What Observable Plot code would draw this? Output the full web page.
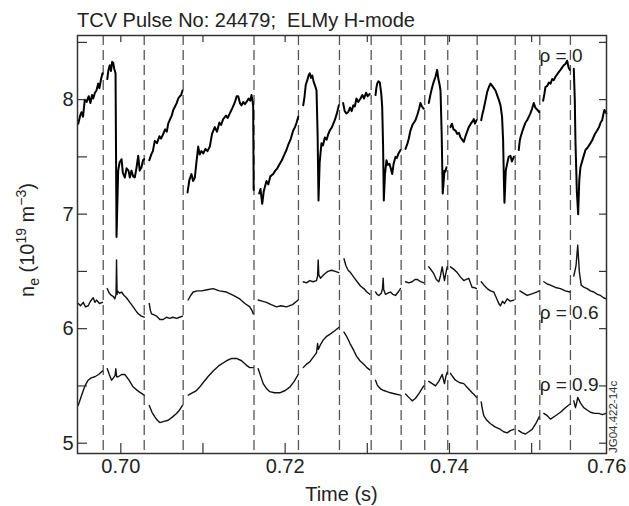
<!DOCTYPE html>
<html><head><meta charset="utf-8">
<script src="https://cdn.jsdelivr.net/npm/d3@7"></script>
<script src="https://cdn.jsdelivr.net/npm/@observablehq/plot@0.6"></script>
<style>body{margin:0;background:#fff;} #chart{width:629px;height:506px;}</style>
</head><body><div id="chart"></div>
<script>
const title = "TCV Pulse No: 24479;  ELMy H-mode";
const xLabel = "Time (s)";
const noteText = "JG04.422-14c";
const xTicks = [0.70, 0.72, 0.74];
const xEdgeTick = [0.76];
const xMinorTicks = [0.70, 0.71, 0.72, 0.73, 0.74, 0.75];
const yTicks = [5, 6, 7, 8];
const yMinorTicks = [5, 5.5, 6, 6.5, 7, 7.5, 8, 8.5];
const seriesLabels = ["ρ = 0", "ρ = 0.6", "ρ = 0.9"];
// ELM times (ms)
const elmTimesMs = [697.86, 702.85, 707.59, 716.21, 721.62, 726.61, 730.47, 734.12, 736.99, 739.79, 743.37, 748.00, 750.99, 754.72];

// rho = 0 : segments of [time (ms), n_e]
const rho0 = [
[[694.82,7.79],[695.05,7.86],[695.22,7.89],[695.4,7.85],[695.62,8.00],[695.85,7.98],[696.1,8.03],[696.3,7.97],[696.5,8.04],[696.64,8.01],[696.85,8.06],[697.04,8.08],[697.25,8.14],[697.4,8.10],[697.6,8.18],[697.77,8.23]],
[[698.35,8.18],[698.5,8.26],[698.66,8.30],[698.8,8.25],[698.95,8.33],[699.08,8.32],[699.2,8.27],[699.36,8.23],[699.48,6.80],[699.68,7.38],[699.85,7.45],[700.09,7.48],[700.25,7.36],[700.49,7.32],[700.7,7.40],[700.94,7.38],[701.1,7.32],[701.3,7.38],[701.5,7.33],[701.7,7.32],[701.9,7.40],[702.12,7.51],[702.3,7.38],[702.52,7.41],[702.7,7.47],[702.85,7.48]],
[[703.46,7.47],[703.7,7.52],[703.9,7.55],[704.14,7.64],[704.4,7.62],[704.7,7.68],[704.9,7.66],[705.16,7.70],[705.4,7.74],[705.6,7.72],[705.77,7.79],[706.0,7.83],[706.2,7.86],[706.38,7.91],[706.6,7.94],[706.8,7.97],[706.99,8.01],[707.2,8.03],[707.35,8.04],[707.51,8.08]],
[[708.12,7.19],[708.35,7.30],[708.6,7.35],[708.8,7.29],[709.01,7.32],[709.2,7.45],[709.42,7.59],[709.6,7.52],[709.8,7.55],[710.03,7.53],[710.3,7.57],[710.55,7.55],[710.83,7.59],[711.1,7.70],[711.44,7.76],[711.7,7.72],[712.0,7.80],[712.2,7.78],[712.46,7.83],[712.8,7.86],[713.0,7.84],[713.27,7.88],[713.6,7.93],[713.9,7.98],[714.1,8.03],[714.29,8.03],[714.5,7.97],[714.69,7.95],[714.9,7.98],[715.1,7.96],[715.3,7.98],[715.55,8.01],[715.75,7.99],[715.91,8.04],[716.05,7.98],[716.11,7.94],[716.17,7.21]],
[[716.84,7.18],[717.0,7.22],[717.21,7.09],[717.4,7.20],[717.73,7.29],[717.95,7.26],[718.2,7.33],[718.55,7.35],[718.8,7.38],[719.05,7.40],[719.35,7.44],[719.6,7.47],[719.9,7.52],[720.16,7.56],[720.4,7.61],[720.7,7.66],[720.98,7.73],[721.2,7.76],[721.4,7.80],[721.59,7.85]],
[[722.20,7.95],[722.35,8.02],[722.51,8.13],[722.7,8.17],[722.85,8.21],[723.00,8.23],[723.15,8.19],[723.3,8.21],[723.49,8.15],[723.65,8.12],[723.82,8.08],[723.95,7.70],[724.06,7.12],[724.2,7.45],[724.42,7.62],[724.6,7.60],[724.83,7.67],[725.05,7.65],[725.25,7.70],[725.43,7.73],[725.7,7.76],[726.04,7.82],[726.3,7.88],[726.53,7.95]],
[[727.06,7.97],[727.25,7.90],[727.45,7.88],[727.67,7.89],[727.9,7.93],[728.1,7.90],[728.3,7.95],[728.48,7.94],[728.68,8.01],[728.9,7.98],[729.17,8.01],[729.4,8.04],[729.6,8.01],[729.85,8.06],[730.05,8.03],[730.30,8.05]],
[[731.00,8.04],[731.1,8.10],[731.20,8.14],[731.35,8.16],[731.52,8.15],[731.7,8.05],[731.81,7.94],[731.92,7.60],[732.01,7.12],[732.15,7.35],[732.33,7.47],[732.5,7.43],[732.7,7.44],[732.82,7.41],[733.03,7.35],[733.2,7.44],[733.43,7.50],[733.6,7.49],[733.8,7.53],[734.04,7.56]],
[[734.65,7.57],[734.9,7.62],[735.05,7.66],[735.25,7.73],[735.5,7.78],[735.86,7.82],[736.1,7.87],[736.3,7.92],[736.47,7.97],[736.65,7.94],[736.87,7.92]],
[[737.48,7.97],[737.7,8.05],[737.90,8.11],[738.1,8.16],[738.3,8.20],[738.50,8.26],[738.65,8.18],[738.8,8.13],[738.91,8.08],[739.05,7.70],[739.18,7.18],[739.39,7.38],[739.5,7.37],[739.64,7.41]],
[[740.12,7.76],[740.3,7.79],[740.5,7.74],[740.73,7.73],[740.95,7.70],[741.15,7.71],[741.34,7.67],[741.55,7.65],[741.74,7.63],[741.95,7.68],[742.15,7.72],[742.35,7.76],[742.6,7.79],[742.8,7.81],[742.96,7.83],[743.1,7.79],[743.29,7.82]],
[[743.86,7.82],[744.0,7.87],[744.17,7.92],[744.4,8.00],[744.6,8.07],[744.8,8.11],[744.99,8.14],[745.2,8.12],[745.4,8.10],[745.60,8.08],[745.8,8.04],[746.0,8.00],[746.21,7.95],[746.4,7.85],[746.53,7.64],[746.62,7.30],[746.69,7.10],[746.85,7.38],[747.02,7.44],[747.2,7.50],[747.42,7.51],[747.6,7.46],[747.83,7.50]],
[[748.43,7.56],[748.55,7.64],[748.64,7.67],[748.85,7.72],[749.04,7.76],[749.25,7.80],[749.45,7.82],[749.65,7.85],[749.85,7.88],[750.05,7.92],[750.26,7.97],[750.45,7.93],[750.7,7.91],[750.92,7.89]],
[[751.40,7.99],[751.55,8.05],[751.68,8.11],[751.9,8.12],[752.1,8.15],[752.3,8.14],[752.5,8.18],[752.69,8.17],[752.9,8.20],[753.1,8.22],[753.3,8.24],[753.51,8.26],[753.7,8.28],[753.9,8.30],[754.1,8.31],[754.32,8.34],[754.5,8.28],[754.64,8.26]],
[[755.13,8.27],[755.25,8.00],[755.33,7.64],[755.5,7.20],[755.66,7.00],[755.8,7.30],[755.94,7.41],[756.1,7.45],[756.3,7.50],[756.55,7.56],[756.8,7.58],[757.16,7.62],[757.4,7.65],[757.7,7.70],[757.97,7.73],[758.2,7.76],[758.4,7.80],[758.58,7.82],[758.75,7.88],[758.86,7.91],[759.0,7.89],[759.10,7.88]]
];

// rho = 0.6
const rho06 = [
[[694.82,6.22],[695.1,6.20],[695.43,6.23],[695.7,6.19],[696.03,6.20],[696.3,6.24],[696.64,6.27],[696.85,6.23],[697.04,6.25],[697.4,6.22],[697.77,6.23]],
[[698.35,6.35],[698.6,6.31],[698.87,6.29],[699.1,6.28],[699.27,6.26],[699.42,6.30],[699.48,6.60],[699.55,6.30],[699.60,6.33],[699.85,6.31],[700.09,6.32],[700.4,6.29],[700.69,6.27],[701.1,6.23],[701.51,6.19],[701.8,6.16],[702.12,6.13],[702.5,6.11],[702.85,6.10]],
[[703.46,6.22],[703.6,6.16],[703.74,6.13],[704.05,6.12],[704.35,6.11],[704.75,6.08],[705.16,6.08],[705.55,6.10],[705.96,6.09],[706.35,6.10],[706.78,6.09],[707.15,6.10],[707.51,6.11]],
[[708.20,6.25],[708.5,6.29],[708.81,6.32],[709.3,6.33],[709.82,6.33],[710.5,6.34],[711.24,6.35],[712.0,6.33],[712.86,6.32],[713.7,6.29],[714.48,6.26],[715.1,6.22],[715.70,6.19],[715.95,6.16],[716.11,6.13]],
[[716.72,6.25],[717.2,6.24],[717.73,6.23],[718.3,6.21],[718.95,6.19],[719.5,6.20],[720.16,6.19],[720.9,6.21],[721.59,6.25]],
[[722.20,6.41],[722.6,6.40],[723.00,6.42],[723.4,6.41],[723.82,6.42],[723.95,6.46],[724.02,6.60],[724.1,6.47],[724.30,6.44],[724.55,6.46],[724.83,6.48],[725.2,6.50],[725.64,6.51],[726.1,6.50],[726.53,6.49]],
[[727.16,6.61],[727.4,6.55],[727.67,6.51],[727.95,6.49],[728.35,6.45],[728.77,6.41],[729.2,6.37],[729.57,6.35],[729.95,6.32],[730.30,6.30]],
[[731.00,6.32],[731.2,6.30],[731.40,6.29],[731.7,6.31],[731.85,6.35],[731.93,6.44],[732.0,6.34],[732.21,6.30],[732.5,6.31],[732.82,6.32],[733.1,6.30],[733.43,6.29],[733.75,6.32],[734.04,6.35]],
[[734.65,6.41],[735.05,6.40],[735.46,6.41],[735.8,6.43],[736.07,6.43],[736.5,6.41],[736.87,6.40]],
[[737.48,6.54],[737.8,6.51],[738.09,6.48],[738.4,6.43],[738.70,6.41],[738.9,6.46],[739.11,6.54],[739.25,6.48],[739.39,6.42],[739.55,6.48],[739.72,6.54]],
[[740.12,6.54],[740.5,6.52],[740.94,6.49],[741.35,6.45],[741.74,6.42],[742.05,6.43],[742.35,6.44],[742.55,6.40],[742.76,6.36],[743.0,6.36],[743.29,6.35]],
[[743.86,6.41],[744.2,6.38],[744.59,6.35],[745.0,6.33],[745.39,6.32],[745.7,6.27],[746.0,6.22],[746.21,6.20],[746.45,6.24],[746.7,6.22],[747.02,6.26],[747.4,6.24],[747.83,6.25]],
[[748.56,6.33],[749.0,6.31],[749.46,6.29],[749.85,6.30],[750.26,6.31],[750.6,6.32],[750.92,6.33]],
[[751.48,6.41],[751.9,6.39],[752.29,6.38],[752.9,6.36],[753.51,6.35],[754.1,6.33],[754.64,6.32]],
[[755.13,6.46],[755.4,6.55],[755.61,6.73],[755.8,6.50],[756.03,6.38],[756.4,6.36],[756.76,6.35],[757.15,6.33],[757.56,6.32],[758.0,6.30],[758.38,6.29],[758.75,6.27],[759.07,6.26]]
];

// rho = 0.9
const rho09 = [
[[694.82,5.33],[695.1,5.39],[695.43,5.46],[695.7,5.51],[696.03,5.55],[696.4,5.57],[696.84,5.58],[697.3,5.60],[697.77,5.63]],
[[698.35,5.65],[698.6,5.60],[698.87,5.55],[699.1,5.57],[699.3,5.59],[699.39,5.65],[699.5,5.58],[699.68,5.58],[700.1,5.60],[700.49,5.60],[701.0,5.55],[701.51,5.49],[702.2,5.45],[702.85,5.42]],
[[703.46,5.33],[703.8,5.27],[704.14,5.23],[704.45,5.20],[704.75,5.18],[705.25,5.19],[705.77,5.20],[706.3,5.23],[706.78,5.26],[707.15,5.29],[707.51,5.33]],
[[708.20,5.42],[708.7,5.44],[709.21,5.46],[709.6,5.49],[710.03,5.53],[710.6,5.58],[711.24,5.63],[712.0,5.68],[712.86,5.72],[713.5,5.74],[714.08,5.74],[714.7,5.72],[715.30,5.68],[715.7,5.66],[716.11,5.66]],
[[716.72,5.65],[717.0,5.59],[717.33,5.52],[717.7,5.48],[718.13,5.45],[718.7,5.44],[719.35,5.44],[720.0,5.46],[720.57,5.49],[721.1,5.54],[721.59,5.60]],
[[722.20,5.66],[722.6,5.69],[723.00,5.71],[723.4,5.75],[723.82,5.79],[723.95,5.87],[724.05,5.82],[724.30,5.86],[724.63,5.90],[725.0,5.93],[725.43,5.95],[726.0,5.98],[726.53,6.01]],
[[727.16,5.97],[727.5,5.93],[727.9,5.87],[728.35,5.81],[728.68,5.76],[729.1,5.72],[729.57,5.69],[729.95,5.66],[730.30,5.64]],
[[731.00,5.55],[731.2,5.51],[731.40,5.49],[731.7,5.47],[732.01,5.46],[732.4,5.45],[732.82,5.44],[733.4,5.43],[734.04,5.42]],
[[734.65,5.43],[735.05,5.40],[735.46,5.37],[735.85,5.39],[736.26,5.43],[736.6,5.47],[736.87,5.50]],
[[737.48,5.54],[737.9,5.52],[738.30,5.50],[738.7,5.54],[739.11,5.60],[739.25,5.56],[739.39,5.52],[739.55,5.58],[739.72,5.62]],
[[740.12,5.61],[740.4,5.58],[740.73,5.55],[741.2,5.53],[741.74,5.52],[742.25,5.48],[742.76,5.44],[743.05,5.42],[743.29,5.40]],
[[743.86,5.36],[744.0,5.30],[744.17,5.24],[744.55,5.20],[744.99,5.17],[745.6,5.14],[746.21,5.12],[746.6,5.10],[747.02,5.09],[747.4,5.11],[747.83,5.12]],
[[748.43,5.11],[748.85,5.09],[749.25,5.08],[749.65,5.10],[750.06,5.12],[750.5,5.17],[750.92,5.23]],
[[751.48,5.26],[751.9,5.24],[752.29,5.21],[752.9,5.24],[753.51,5.27],[754.1,5.31],[754.64,5.34]],
[[755.13,5.37],[755.33,5.31],[755.5,5.36],[755.61,5.40],[755.95,5.35],[756.34,5.31],[756.75,5.29],[757.16,5.27],[757.65,5.26],[758.17,5.26],[758.6,5.25],[759.07,5.26]]
];

const toRows = (segs, name) => segs.flatMap((seg, i) => seg.map(([t, v]) => ({t: t / 1000, v, seg: name + i})));
const rows0 = toRows(rho0, "a");
const rows06 = toRows(rho06, "b");
const rows09 = toRows(rho09, "c");
const elmTimes = elmTimesMs.map(d => d / 1000);

const FONT = "'Liberation Sans', Arial, Helvetica, sans-serif";
const W = 629, H = 506, ML = 77, MR = 23, MT = 35, MB = 53;
const frameW = W - ML - MR, frameH = H - MT - MB;
const fmt = d3.format(".2f");

const chart = Plot.plot({
  width: W, height: H,
  marginLeft: ML, marginRight: MR, marginTop: MT, marginBottom: MB,
  style: {fontFamily: FONT, color: "#222", background: "#fff", overflow: "visible"},
  x: {domain: [0.69473, 0.75911]},
  y: {domain: [4.91, 8.56]},
  marks: [
    Plot.ruleX(elmTimes, {x: d => d, stroke: "#555", strokeWidth: 1.3, strokeDasharray: "10,5"}),
    Plot.line(rows09, {x: "t", y: "v", z: "seg", stroke: "#111", strokeWidth: 1.4}),
    Plot.line(rows06, {x: "t", y: "v", z: "seg", stroke: "#111", strokeWidth: 1.4}),
    Plot.line(rows0, {x: "t", y: "v", z: "seg", stroke: "#000", strokeWidth: 2}),
    Plot.ruleX(xMinorTicks, {x: d => d, insetTop: frameH - 10, stroke: "#333", strokeWidth: 1.2}),
    Plot.ruleX(xMinorTicks, {x: d => d, insetBottom: frameH - 7, stroke: "#333", strokeWidth: 1.2}),
    Plot.ruleY(yMinorTicks, {y: d => d, insetRight: frameW - 10, stroke: "#333", strokeWidth: 1.2}),
    Plot.ruleY(yMinorTicks, {y: d => d, insetLeft: frameW - 7, stroke: "#333", strokeWidth: 1.2}),
    Plot.frame({stroke: "#333", strokeWidth: 1.5}),
    Plot.axisX({ticks: xTicks, tickSize: 0, tickPadding: 5, tickFormat: fmt, fontSize: 20, label: null, fill: "#222"}),
    Plot.axisX({ticks: xEdgeTick, tickSize: 0, tickPadding: 5, tickFormat: fmt, fontSize: 20, label: null, fill: "#222", dx: -7}),
    Plot.axisY({ticks: yTicks, tickSize: 0, tickPadding: 4, tickFormat: d3.format("d"), fontSize: 20, label: null, fill: "#222"}),
    Plot.text([seriesLabels[0]], {text: d => d, frameAnchor: "top-right", textAnchor: "end", dx: -24, dy: 13, fontSize: 19, fill: "#222"}),
    Plot.text([seriesLabels[1]], {text: d => d, frameAnchor: "right", textAnchor: "end", dx: -8, dy: 68, fontSize: 19, fill: "#222"}),
    Plot.text([seriesLabels[2]], {text: d => d, frameAnchor: "right", textAnchor: "end", dx: -8, dy: 140, fontSize: 19, fill: "#222"})
  ]
});

const svg = d3.select(chart);
svg.append("text").attr("x", ML).attr("y", 27).attr("text-anchor", "start").attr("font-size", 20).attr("font-family", FONT).attr("fill", "#222").text(title);
svg.append("text").attr("x", ML + frameW / 2).attr("y", 501).attr("text-anchor", "middle").attr("font-size", 20).attr("font-family", FONT).attr("fill", "#222").text(xLabel);
const yl = svg.append("text").attr("transform", "translate(34,240) rotate(-90)").attr("text-anchor", "middle").attr("font-size", 20).attr("font-family", FONT).attr("fill", "#222");
yl.append("tspan").text("n");
yl.append("tspan").attr("dy", 5).attr("font-size", 14).text("e");
yl.append("tspan").attr("dy", -5).text(" (10");
yl.append("tspan").attr("dy", -8).attr("font-size", 14).text("19");
yl.append("tspan").attr("dy", 8).text(" m");
yl.append("tspan").attr("dy", -8).attr("font-size", 14).text("\u22123");
yl.append("tspan").attr("dy", 8).text(")");
svg.append("text").attr("transform", `translate(617,${MT + frameH}) rotate(-90)`).attr("text-anchor", "start").attr("font-size", 11.5).attr("font-family", FONT).attr("fill", "#333").text(noteText);

document.getElementById("chart").appendChild(chart);
</script>
</body></html>
